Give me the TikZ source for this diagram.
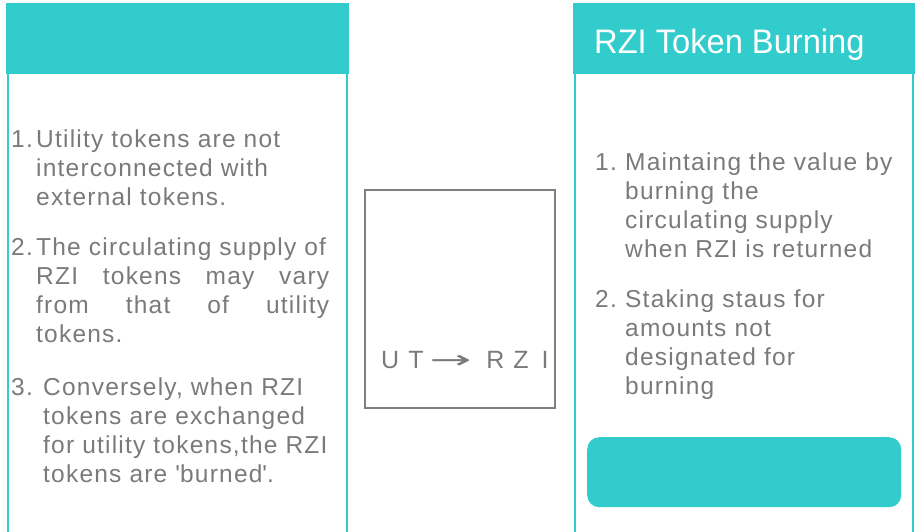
\documentclass[tikz,border=0pt]{standalone}
\usepackage{fontspec}
\setmainfont{Liberation Sans}
\newfontfamily\bodyfont[LetterSpace=5]{Liberation Sans}
\newfontfamily\arrowfont{DejaVu Sans}
\definecolor{tealc}{RGB}{51,204,204}
\definecolor{textgray}{RGB}{122,122,122}
\definecolor{boxgray}{RGB}{128,128,128}
\tikzset{
  header/.style={fill=tealc, draw=none, anchor=north west, inner sep=0},
  panelline/.style={draw=tealc, line width=2pt},
  itemnum/.style={anchor=base west, inner sep=0, text=textgray, font=\bodyfont\fontsize{24.5}{29}\selectfont},
  itembody/.style={anchor=base west, inner sep=0, text=textgray, font=\bodyfont\fontsize{24.5}{29}\selectfont},
  midbox/.style={draw=boxgray, line width=1.5pt, anchor=north west, inner sep=0},
  pill/.style={fill=tealc, draw=none, rounded corners=12pt, anchor=north west, inner sep=0},
}
\newcommand{\sq}{\textquotesingle}
\begin{document}
\begin{tikzpicture}[x=1pt,y=-1pt]
\useasboundingbox (0,0) rectangle (921,531);

% left column
\node[header, minimum width=343pt, minimum height=71pt] (lhead) at (6,3) {};
\coordinate (lbl) at (8,74);
\coordinate (lbr) at (347,74);
\coordinate (lfl) at (8,545);
\coordinate (lfr) at (347,545);
\draw[panelline] (lbl) -- (lfl);
\draw[panelline] (lbr) -- (lfr);

\node[itemnum] (ln1) at (11,147) {1.};
\node[itembody] (lt1) at (36,147) {\parbox[t]{300pt}{Utility tokens are not\\interconnected with\\external tokens.}};
\node[itemnum] (ln2) at (11,255) {2.};
\node[itembody] (lt2) at (36,255) {\parbox[t]{300pt}{The circulating supply of\\
  \makebox[293pt][s]{RZI tokens\quad may vary}\\
  \makebox[293pt][s]{from that of utility}\\
  tokens.}};
\node[itemnum] (ln3) at (11,395) {3.};
\node[itembody] (lt3) at (43,395) {\parbox[t]{300pt}{Conversely, when RZI\\tokens are exchanged\\for utility tokens,the RZI\\tokens are \sq burned\sq.}};

% middle box
\node[midbox, minimum width=190pt, minimum height=218pt] (mid) at (364,189) {};
\node[anchor=base west, inner sep=0, text=textgray, font=\fontsize{25}{30}\selectfont] (midtext) at (381,368)
  {U\hspace{9pt}T\hspace{6pt}{\arrowfont\scalebox{2.0}[1]{→}}\hspace{15pt}R\hspace{9pt}Z\hspace{13pt}I};

% right column
\node[header, minimum width=342pt, minimum height=71pt] (rhead) at (573,3) {};
\node[anchor=base west, inner sep=0, text=white, font=\fontsize{34}{40}\selectfont] (rtitle) at (594,53) {\scalebox{0.96}[1]{RZI Token Burning}};
\coordinate (rbl) at (575,74);
\coordinate (rbr) at (913,74);
\coordinate (rfl) at (575,545);
\coordinate (rfr) at (913,545);
\draw[panelline] (rbl) -- (rfl);
\draw[panelline] (rbr) -- (rfr);

\node[itemnum] (rn1) at (595,170) {1.};
\node[itembody] (rt1) at (625,170) {\parbox[t]{285pt}{Maintaing the value by\\burning the\\circulating supply\\when RZI is returned}};
\node[itemnum] (rn2) at (595,307) {2.};
\node[itembody] (rt2) at (625,307) {\parbox[t]{285pt}{Staking staus for\\amounts not\\designated for\\burning}};

\node[pill, minimum width=314pt, minimum height=70pt] (rpill) at (587,437) {};
\end{tikzpicture}
\end{document}
